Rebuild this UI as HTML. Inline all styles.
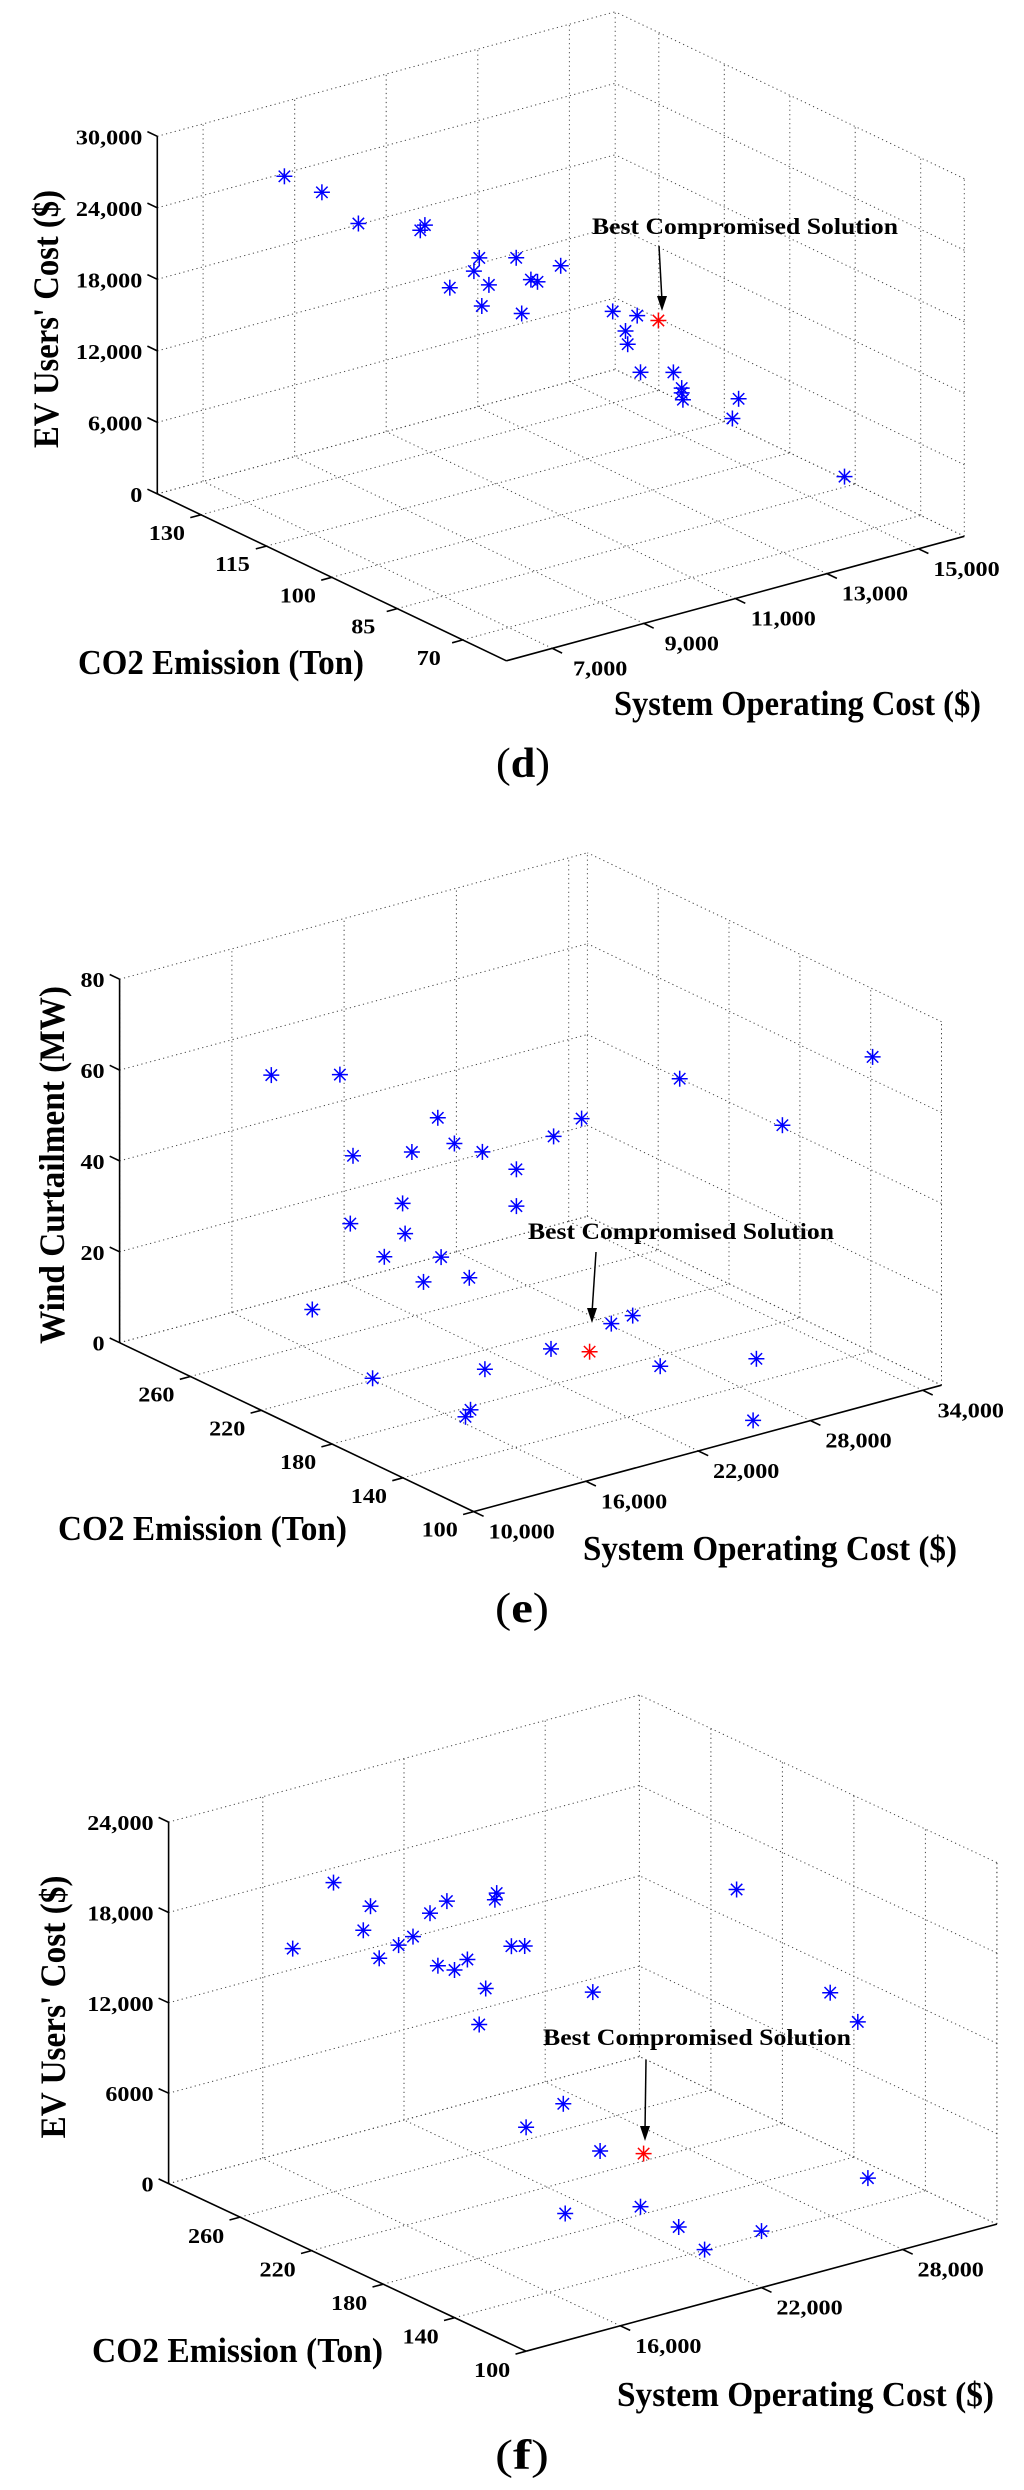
<!DOCTYPE html>
<html><head><meta charset="utf-8"><title>3D Pareto fronts</title>
<style>
html,body{margin:0;padding:0;background:#fff;}
svg{display:block;}
text{font-family:"Liberation Serif","Times New Roman",serif;font-weight:bold;fill:#000;}
</style></head>
<body>
<svg id="fig" width="1024" height="2490" viewBox="0 0 1024 2490" xmlns="http://www.w3.org/2000/svg"></svg>
<script>
// ---- Panel (d) data ----
const dCo2 = [130.1,126.8,123.6,118.2,117.8,115.6,113.5,113.0,112.8,112.2,109.8,109.3,108.5,107.9,105.9,101.3,99.2,100.2,100.0,98.9,96.0,95.3,95.3,95.2,90.3,90.8,81.0];
const dCost = [7833,8336,8829,9667,9728,10063,10389,10460,10495,10592,10961,11032,11156,11244,11561,12257,12592,12433,12460,12636,13077,13192,13192,13209,13959,13870,15385];
const dEv = [26460,25176,22599,22102,22541,17329,18746,19865,15829,17602,19914,15249,18108,17934,19293,15547,15215,13914,12812,10467,10500,9191,8785,8213,8362,6713,1972];
const dBest = [97.3,12875,14843];
const dZTicks = [0,6000,12000,18000,24000,30000];
const dZLabels = ["0","6,000","12,000","18,000","24,000","30,000"];
const dCo2Ticks = [70,85,100,115,130];
const dCo2Labels = ["70","85","100","115","130"];
const dCostTicks = [7000,9000,11000,13000,15000];
const dCostLabels = ["7,000","9,000","11,000","13,000","15,000"];

// ---- Panel (e) data ----
const eCo2 = [256.6,241.6,215.4,234.2,216.8,206,200.8,187,184.4,194.8,194.8,219.4,227.8,218,219.2,205.6,207.6,197.6,230.8,141.2,137,148.8,151.8,188.8,138.8,139,126.8,120,106,155.4,137,120.4];
const eCost = [14000,16250,19000,16250,17750,19000,20000,22500,23750,21250,21250,17500,15500,17500,16500,18250,17500,19000,13750,21250,22000,18750,15500,13000,13500,13250,22500,27000,25500,26250,30000,33250];
const eWind = [62.5,62.9,55.2,46.4,48.8,51.3,49.3,52.5,55.5,45.2,37.1,37.3,33.5,30.9,26.7,27.2,22.2,23.3,16,21.2,22.9,17,15.6,9.5,11.3,10,13.1,11,1.7,66.9,55.9,70.4];
const eBest = [140.2,20000,16.6];
const eZTicks = [0,20,40,60,80];
const eZLabels = ["0","20","40","60","80"];
const eCo2Ticks = [100,140,180,220,260];
const eCo2Labels = ["100","140","180","220","260"];
const eCostTicks = [10000,16000,22000,28000,34000];
const eCostLabels = ["10,000","16,000","22,000","28,000","34,000"];

// ---- Panel (f) data ----
const fCo2 = [264.8,260.4,249,247.6,245.4,239.8,237,235.4,231.2,231,227,225,217.4,215.8,222.8,221.8,213.6,211.4,194.4,171.4,179,150.8,130.8,128.2,120,113.4,115.8,166.6,140.6,130.4,114.2];
const fCost = [14600,16000,16400,16600,16800,17200,17600,18200,18600,18200,18600,19000,19200,18800,20000,20000,20000,20400,22000,19000,18000,19000,16000,19000,20000,20600,23200,26000,28000,28400,27600];
const fEv = [16460,20500,17800,19390,15970,16990,17540,18930,19800,15690,15460,16100,14510,12380,19770,20260,17190,17160,14370,9500,7940,7510,5740,5070,3760,2370,2370,21040,14790,13250,4120];
const fBest = [139.6,20000,7540];
const fZTicks = [0,6000,12000,18000,24000];
const fZLabels = ["0","6000","12,000","18,000","24,000"];
const fCo2Ticks = [100,140,180,220,260];
const fCo2Labels = ["100","140","180","220","260"];
const fCostTicks = [16000,22000,28000];
const fCostLabels = ["16,000","22,000","28,000"];

const NS = "http://www.w3.org/2000/svg";
const svg = document.getElementById('fig');

function mk(tag, attrs, parent){
  const el = document.createElementNS(NS, tag);
  for (const k in attrs) el.setAttribute(k, attrs[k]);
  (parent || svg).appendChild(el);
  return el;
}

function drawPanel(cfg, co2, cost, zv, best, zT, zL, cT, cL, sT, sL){
  const g = mk('g', {});
  
  
  const fa = c => (c - cfg.co2[0]) / (cfg.co2[1] - cfg.co2[0]);
  const fb = s => (s - cfg.cost[0]) / (cfg.cost[1] - cfg.cost[0]);
  const fz = z => (z - cfg.z[0]) / (cfg.z[1] - cfg.z[0]);
  const P = (a, b, zf) => [cfg.F[0] + a*cfg.u[0] + b*cfg.v[0], cfg.F[1] + a*cfg.u[1] + b*cfg.v[1] - zf*cfg.H];
  const proj = (c, s, z) => P(fa(c), fb(s), fz(z));
  const dotted = {stroke:'#444','stroke-width':1,'stroke-dasharray':'1.2 3.3',fill:'none'};
  const line = (p, q, st, name) => {
    const l = mk('line', Object.assign({x1:p[0].toFixed(1),y1:p[1].toFixed(1),x2:q[0].toFixed(1),y2:q[1].toFixed(1)}, st), g);
    
    
    return l;
  };
  cT.forEach(c => { line(P(fa(c),0,0), P(fa(c),1,0), dotted, 'floor-grid-line'); });
  sT.forEach(s => { line(P(0,fb(s),0), P(1,fb(s),0), dotted, 'floor-grid-line'); });
  sT.forEach(s => { line(P(1,fb(s),0), P(1,fb(s),1), dotted, 'wall-grid-line'); });
  zT.forEach(z => { line(P(1,0,fz(z)), P(1,1,fz(z)), dotted, 'wall-grid-line'); });
  cT.forEach(c => { line(P(fa(c),1,0), P(fa(c),1,1), dotted, 'wall-grid-line'); });
  zT.forEach(z => { line(P(0,1,fz(z)), P(1,1,fz(z)), dotted, 'wall-grid-line'); });
  line(P(1,1,0), P(1,1,1), dotted, 'box-edge');
  line(P(0,1,0), P(0,1,1), dotted, 'box-edge');
  line(P(1,0,0), P(1,1,0), dotted, 'box-edge');
  line(P(0,1,0), P(1,1,0), dotted, 'box-edge');
  const ax = {stroke:'#000','stroke-width':1.6};
  line(P(1,0,0), P(1,0,1), ax, 'z-axis');
  line(P(1,0,0), P(0,0,0), ax, 'co2-axis');
  line(P(0,0,0), P(0,1,0), ax, 'cost-axis');
  const nu = Math.hypot(cfg.u[0],cfg.u[1]), nv = Math.hypot(cfg.v[0],cfg.v[1]);
  const uu = [cfg.u[0]/nu, cfg.u[1]/nu], vv = [cfg.v[0]/nv, cfg.v[1]/nv];
  const T = 11;
  const lbl = (x, y, txt, anchor, name) => {
    const t = mk('text', {transform:'translate('+x.toFixed(1)+','+y.toFixed(1)+') scale(1.15,1)','font-size':21,'text-anchor':anchor}, g);
    t.textContent = txt;
    
    
  };
  zT.forEach((z, i) => {
    const p = P(1,0,fz(z));
    line(p, [p[0]+uu[0]*T, p[1]+uu[1]*T], ax, 'z-tick');
    lbl(p[0]-15, p[1]+8, zL[i], 'end', 'z-tick-label');
  });
  cT.forEach((c, i) => {
    const p = P(fa(c),0,0);
    line(p, [p[0]-vv[0]*T, p[1]-vv[1]*T], ax, 'co2-tick');
    lbl(p[0]+cfg.co2Off[0], p[1]+cfg.co2Off[1], cL[i], 'middle', 'co2-tick-label');
  });
  sT.forEach((s, i) => {
    const p = P(0,fb(s),0);
    line(p, [p[0]-uu[0]*T, p[1]-uu[1]*T], ax, 'cost-tick');
    lbl(p[0]+cfg.costOff[0], p[1]+cfg.costOff[1], sL[i], 'middle', 'cost-tick-label');
  });
  const star = (p, color, name) => {
    const sg = mk('g', {stroke:color,'stroke-width':1.5}, g);
    
    
    const r = 8, d = 5.7, x = p[0], y = p[1];
    [[x-r,y,x+r,y],[x,y-r,x,y+r],[x-d,y-d,x+d,y+d],[x-d,y+d,x+d,y-d]].forEach(q => {
      mk('line', {x1:q[0].toFixed(1),y1:q[1].toFixed(1),x2:q[2].toFixed(1),y2:q[3].toFixed(1)}, sg);
    });
  };
  for (let i = 0; i < co2.length; i++) star(proj(co2[i], cost[i], zv[i]), '#0000ff', 'pareto-point');
  star(proj(best[0], best[1], best[2]), '#ff0000', 'best-compromise-point');
  const bt = mk('text', {x:cfg.best[0], y:cfg.best[1], 'font-size':23, textLength:cfg.best[2], lengthAdjust:'spacingAndGlyphs'}, g);
  bt.textContent = 'Best Compromised Solution';
  
  
  const a = cfg.arrow;
  line([a[0],a[1]], [a[2],a[3]-10], {stroke:'#000','stroke-width':1.5}, 'annotation-arrow');
  const ah = mk('polygon', {points:(a[2]-5)+','+(a[3]-15)+' '+(a[2]+5)+','+(a[3]-15)+' '+a[2]+','+a[3], fill:'#000'}, g);
  
  
  const zt = mk('text', {transform:'translate('+cfg.zt[0]+','+cfg.zt[1]+') scale(1.1,1) rotate(-90)','font-size':33,'text-anchor':'middle',textLength:cfg.zt[2],lengthAdjust:'spacingAndGlyphs'}, g);
  zt.textContent = cfg.zTitle;
  
  
  const ct = mk('text', {x:cfg.ct[0], y:cfg.ct[1], 'font-size':35, textLength:cfg.ct[2], lengthAdjust:'spacingAndGlyphs'}, g);
  ct.textContent = 'CO2 Emission (Ton)';
  
  
  const st = mk('text', {x:cfg.st[0], y:cfg.st[1], 'font-size':35, textLength:cfg.st[2], lengthAdjust:'spacingAndGlyphs'}, g);
  st.textContent = 'System Operating Cost ($)';
  
  
  const pl = mk('text', {x:cfg.pl[0], y:cfg.pl[1], 'font-size':42, 'text-anchor':'middle', textLength:54, lengthAdjust:'spacingAndGlyphs'}, g);
  pl.innerHTML = '<tspan font-weight="normal">(</tspan>' + cfg.letter + '<tspan font-weight="normal">)</tspan>';
  
  
}

drawPanel({name:'panel-d', F:[506.4,660.8], u:[-349.1,-166.9], v:[457.9,-124.5], H:357.6,
  co2:[60,140], cost:[6000,16000], z:[0,30000], co2Off:[-34,25], costOff:[48,27],
  best:[592,234,306], arrow:[659,246,662,311], zt:[58,319,258], zTitle:"EV Users' Cost ($)",
  ct:[78,674,286], st:[614,715,367], pl:[523,777], letter:'d'},
  dCo2, dCost, dEv, dBest, dZTicks, dZLabels, dCo2Ticks, dCo2Labels, dCostTicks, dCostLabels);

drawPanel({name:'panel-e', F:[473.7,1511.6], u:[-354.1,-168.9], v:[467.8,-126.4], H:363.5,
  co2:[100,300], cost:[10000,35000], z:[0,80], co2Off:[-34,25], costOff:[48,27],
  best:[528,1239,306], arrow:[596,1252,592,1323], zt:[64,1165,358], zTitle:'Wind Curtailment (MW)',
  ct:[58,1540,289], st:[583,1560,374], pl:[522,1622], letter:'e'},
  eCo2, eCost, eWind, eBest, eZTicks, eZLabels, eCo2Ticks, eCo2Labels, eCostTicks, eCostLabels);

drawPanel({name:'panel-f', F:[526.1,2351.2], u:[-357.5,-167.6], v:[470.8,-127.1], H:361.5,
  co2:[100,300], cost:[12000,32000], z:[0,24000], co2Off:[-34,26], costOff:[48,27],
  best:[543,2045,308], arrow:[646,2060,645,2141], zt:[65,2007,263], zTitle:"EV Users' Cost ($)",
  ct:[92,2362,291], st:[617,2406,377], pl:[522,2469], letter:'f'},
  fCo2, fCost, fEv, fBest, fZTicks, fZLabels, fCo2Ticks, fCo2Labels, fCostTicks, fCostLabels);
</script>
</body></html>
